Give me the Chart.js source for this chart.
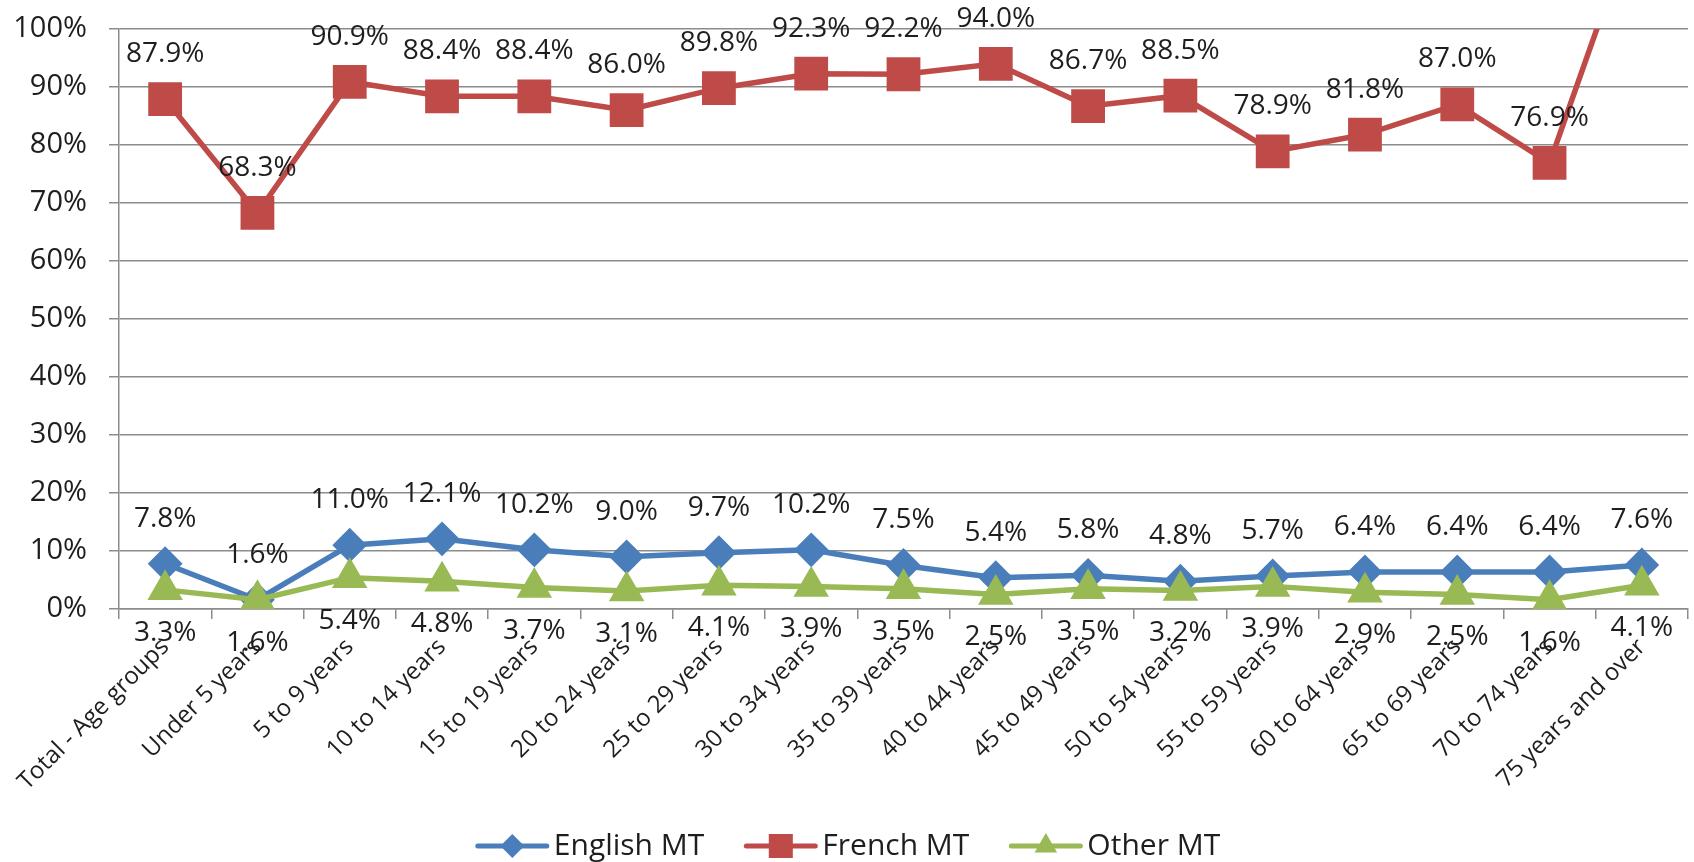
<!DOCTYPE html>
<html>
<head>
<meta charset="utf-8">
<title>Mother tongue by age group</title>
<script src="https://cdn.jsdelivr.net/npm/chart.js@4.4.1/dist/chart.umd.min.js"></script>
<style>
  html, body { margin: 0; padding: 0; background: #fff; }
</style>
</head>
<body>
<canvas id="chart" width="1694" height="862"></canvas>
<script>
const ageGroups = [
  'Total - Age groups', 'Under 5 years', '5 to 9 years', '10 to 14 years',
  '15 to 19 years', '20 to 24 years', '25 to 29 years', '30 to 34 years',
  '35 to 39 years', '40 to 44 years', '45 to 49 years', '50 to 54 years',
  '55 to 59 years', '60 to 64 years', '65 to 69 years', '70 to 74 years',
  '75 years and over'
];
const englishMT = [7.8, 1.6, 11.0, 12.1, 10.2, 9.0, 9.7, 10.2, 7.5, 5.4, 5.8, 4.8, 5.7, 6.4, 6.4, 6.4, 7.6];
const frenchMT  = [87.9, 68.3, 90.9, 88.4, 88.4, 86.0, 89.8, 92.3, 92.2, 94.0, 86.7, 88.5, 78.9, 81.8, 87.0, 76.9, 122.0];
const otherMT   = [3.3, 1.6, 5.4, 4.8, 3.7, 3.1, 4.1, 3.9, 3.5, 2.5, 3.5, 3.2, 3.9, 2.9, 2.5, 1.6, 4.1];
const yMax = 100;

const FONT = '"Open Sans", "DejaVu Sans", sans-serif';
const TEXT = '#1e1e1e';
const GRID = '#8c8c8c';

const BLUE = '#4a7ebb';
const RED = '#be4b48';
const GREEN = '#98b954';

// value labels above (or below) each point; anything past the top is cut off
const valueLabels = {
  id: 'valueLabels',
  afterDatasetsDraw(chart) {
    const ctx = chart.ctx;
    ctx.save();
    ctx.font = '28px ' + FONT;
    ctx.fillStyle = TEXT;
    ctx.textAlign = 'center';
    ctx.textBaseline = 'middle';
    chart.data.datasets.forEach((ds, i) => {
      const meta = chart.getDatasetMeta(i);
      meta.data.forEach((pt, j) => {
        const v = ds.data[j];
        if (v > yMax) return;
        const dy = ds.labelBelow ? 43 : -45;
        ctx.fillText(v.toFixed(1) + '%', pt.x, pt.y + dy);
      });
    });
    ctx.restore();
  }
};

// legend row under the axis: line with marker, then the series name
const legendRow = {
  id: 'legendRow',
  afterDraw(chart) {
    const ctx = chart.ctx;
    const lineLen = 73, gap = 40, y = 846;
    ctx.save();
    ctx.font = '30px ' + FONT;
    const items = chart.data.datasets.map(ds => ({ ds, w: lineLen + 5 + ctx.measureText(ds.label).width }));
    const total = items.reduce((s, it) => s + it.w, 0) + gap * (items.length - 1);
    let x = 848 - total / 2;
    items.forEach(({ ds, w }) => {
      ctx.strokeStyle = ds.borderColor;
      ctx.fillStyle = ds.borderColor;
      ctx.lineWidth = 5;
      ctx.lineCap = 'round';
      ctx.beginPath();
      ctx.moveTo(x + 2, y);
      ctx.lineTo(x + lineLen - 2, y);
      ctx.stroke();
      Chart.helpers.drawPoint(ctx, {
        pointStyle: ds.pointStyle, radius: ds.legendRadius, rotation: 0, borderWidth: 0
      }, x + lineLen / 2, y);
      ctx.fillStyle = TEXT;
      ctx.textAlign = 'left';
      ctx.textBaseline = 'middle';
      ctx.fillText(ds.label, x + lineLen + 5, y);
      x += w + gap;
    });
    ctx.restore();
  }
};

new Chart(document.getElementById('chart'), {
  type: 'line',
  data: {
    labels: ageGroups,
    datasets: [
      {
        label: 'English MT', data: englishMT, order: 1,
        borderColor: BLUE, backgroundColor: BLUE, borderWidth: 5.5,
        pointStyle: 'rectRot', pointRadius: 13.5, pointHoverRadius: 13.5,
        pointBackgroundColor: BLUE, pointBorderColor: BLUE,
        labelBelow: false, legendRadius: 12
      },
      {
        label: 'French MT', data: frenchMT, order: 1,
        borderColor: RED, backgroundColor: RED, borderWidth: 5.5,
        pointStyle: 'rect', pointRadius: 20, pointHoverRadius: 20,
        pointBackgroundColor: RED, pointBorderColor: RED,
        labelBelow: false, legendRadius: 17
      },
      {
        label: 'Other MT', data: otherMT, order: 0,
        borderColor: GREEN, backgroundColor: GREEN, borderWidth: 5.5,
        pointStyle: 'triangle', pointRadius: 15, pointHoverRadius: 15,
        pointBackgroundColor: GREEN, pointBorderColor: GREEN,
        labelBelow: true, legendRadius: 13
      }
    ]
  },
  options: {
    responsive: false,
    animation: false,
    devicePixelRatio: 1,
    layout: { autoPadding: false, padding: { top: 29, left: 0, right: 6, bottom: 0 } },
    plugins: {
      tooltip: { enabled: false },
      legend: { display: false }
    },
    scales: {
      x: {
        offset: true,
        afterFit: scale => {
          scale.height = 253;
          scale.paddingLeft = 0;
          scale.paddingRight = 0;
        },
        grid: { offset: true, drawOnChartArea: false, drawTicks: true, tickLength: 10, color: GRID, lineWidth: 1.5 },
        border: { color: GRID, width: 1.5 },
        ticks: {
          minRotation: 45, maxRotation: 45, autoSkip: false, padding: 14,
          color: TEXT, font: { family: FONT, size: 24 }
        }
      },
      y: {
        min: 0, max: yMax,
        afterFit: scale => {
          scale.width = 119;
          scale.paddingTop = 0;
          scale.paddingBottom = 0;
        },
        grid: { color: GRID, lineWidth: 1.5, tickLength: 10 },
        border: { color: GRID, width: 1.5 },
        ticks: {
          stepSize: 10, padding: 22, color: TEXT,
          font: { family: FONT, size: 29 },
          callback: v => v + '%'
        }
      }
    }
  },
  plugins: [valueLabels, legendRow]
});
</script>
</body>
</html>
